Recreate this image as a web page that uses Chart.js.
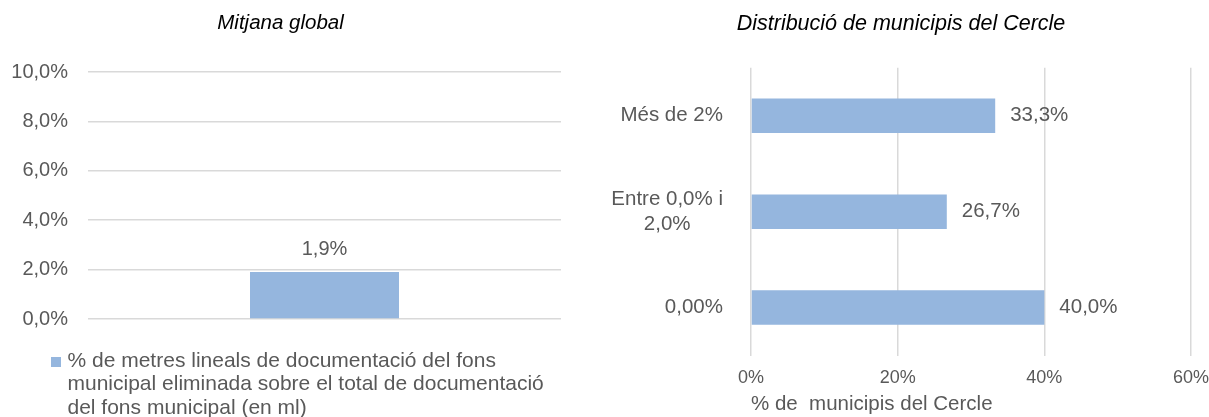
<!DOCTYPE html>
<html>
<head>
<meta charset="utf-8">
<script src="https://cdn.jsdelivr.net/npm/chart.js@4"></script>
<style>
  body { margin: 0; background: #fff; }
  #wrap { position: relative; width: 1209px; height: 417px; font-family: 'Liberation Sans', Arial, sans-serif; }
  #left { position: absolute; left: 0; top: 0; }
  #right { position: absolute; left: 600px; top: 0; }
  #legend { position: absolute; left: 51px; top: 348px; width: 540px; color: #595959; font-size: 21px; line-height: 23.3px; }
  #legend .box { position: absolute; left: 0; top: 9px; width: 10px; height: 10px; background: #95b6de; }
  #legend .txt { margin-left: 16.5px; white-space: nowrap; }
</style>
</head>
<body>
<div id="wrap">
  <canvas id="left" width="600" height="417"></canvas>
  <canvas id="right" width="609" height="417"></canvas>
  <div id="legend"><span class="box"></span><div class="txt">% de metres lineals de documentació del fons<br>municipal eliminada sobre el total de documentació<br>del fons municipal (en ml)</div></div>
</div>
<script>
// left chart: global average
const globalLabels = ['']
const globalValues = [1.9]
const globalSeries = '% de metres lineals de documentació del fons municipal eliminada sobre el total de documentació del fons municipal (en ml)'

// right chart: distribution of municipalities
const distLabels = ['Més de 2%', ['Entre 0,0% i', '2,0%'], '0,00%']
const distValues = [33.3, 26.7, 40.0]

const barColor = '#95b6de'
const gridColor = '#d9d9d9'
const textColor = '#595959'
const font = "'Liberation Sans', Arial, sans-serif"

const fmt = (v, d) => v.toFixed(d).replace('.', ',') + '%'

// draws the value next to each bar
const valueLabels = {
  id: 'valueLabels',
  afterDatasetsDraw(chart, args, opts) {
    const ctx = chart.ctx
    const meta = chart.getDatasetMeta(0)
    ctx.save()
    ctx.fillStyle = textColor
    ctx.font = opts.size + 'px ' + font
    ctx.textBaseline = 'middle'
    meta.data.forEach((bar, i) => {
      const v = chart.data.datasets[0].data[i]
      if (opts.horizontal) {
        ctx.textAlign = 'left'
        ctx.fillText(fmt(v, 1), bar.x + 15, bar.y)
      } else {
        ctx.textAlign = 'center'
        ctx.fillText(fmt(v, 1), bar.x, bar.y - 23)
      }
    })
    ctx.restore()
  }
}

// multi-line category labels are centred on themselves (still right-aligned as a block)
const centerMultiline = {
  id: 'centerMultiline',
  beforeDraw(chart) {
    const ctx = chart.ctx
    ctx.save()
    chart.scales.y.getLabelItems().forEach(item => {
      if (Array.isArray(item.label) && item.options.textAlign === 'right') {
        ctx.font = item.font.string
        const w = Math.max(...item.label.map(t => ctx.measureText(t).width))
        item.options.textAlign = 'center'
        item.options.translation[0] -= w / 2
      }
    })
    ctx.restore()
  }
}

new Chart(document.getElementById('left'), {
  type: 'bar',
  data: {
    labels: globalLabels,
    datasets: [{
      label: globalSeries,
      data: globalValues,
      backgroundColor: barColor,
      categoryPercentage: 1,
      barPercentage: 0.315
    }]
  },
  plugins: [valueLabels],
  options: {
    responsive: false,
    animation: false,
    layout: { padding: { left: 0, right: 39, top: 0, bottom: 98 } },
    plugins: {
      legend: { display: false },
      tooltip: { enabled: false },
      title: {
        display: true,
        text: 'Mitjana global',
        color: '#000',
        font: { family: font, size: 20.5, style: 'italic', weight: 'normal' },
        padding: { top: 11, bottom: 36.5 }
      },
      valueLabels: { horizontal: false, size: 20 }
    },
    scales: {
      x: { display: false },
      y: {
        min: 0,
        max: 10,
        afterFit: s => { s.width = 88 },
        border: { display: false },
        grid: { color: gridColor, lineWidth: 1.5, drawTicks: false },
        ticks: {
          stepSize: 2,
          padding: 20,
          color: textColor,
          font: { family: font, size: 20 },
          callback: v => fmt(v, 1)
        }
      }
    }
  }
})

new Chart(document.getElementById('right'), {
  type: 'bar',
  data: {
    labels: distLabels,
    datasets: [{
      label: '% de municipis del Cercle',
      data: distValues,
      backgroundColor: barColor,
      categoryPercentage: 1,
      barPercentage: 0.36
    }]
  },
  plugins: [valueLabels, centerMultiline],
  options: {
    indexAxis: 'y',
    responsive: false,
    animation: false,
    layout: { padding: { left: 11, right: 18, top: 0, bottom: 0 } },
    plugins: {
      legend: { display: false },
      tooltip: { enabled: false },
      title: {
        display: true,
        text: 'Distribució de municipis del Cercle',
        color: '#000',
        font: { family: font, size: 21.5, style: 'italic', weight: 'normal' },
        padding: { top: 11, bottom: 31 }
      },
      valueLabels: { horizontal: true, size: 20.5 }
    },
    scales: {
      x: {
        min: 0,
        max: 60,
        afterFit: s => { s.height = 61.5; s.paddingLeft = 0; s.paddingRight = 0 },
        border: { display: false },
        grid: { color: gridColor, lineWidth: 1.5, drawTicks: false },
        ticks: {
          stepSize: 20,
          padding: 12,
          maxRotation: 0,
          color: textColor,
          font: { family: font, size: 18 },
          callback: v => v + '%'
        },
        title: {
          display: true,
          text: '% de  municipis del Cercle',
          align: 'start',
          color: textColor,
          font: { family: font, size: 20.5 },
          padding: { top: 0, bottom: 0 }
        }
      },
      y: {
        afterFit: s => { s.width = 140 },
        border: { display: false },
        grid: { display: false },
        ticks: {
          padding: 20,
          color: textColor,
          font: { family: font, size: 20.5 }
        }
      }
    }
  }
})
</script>
</body>
</html>
